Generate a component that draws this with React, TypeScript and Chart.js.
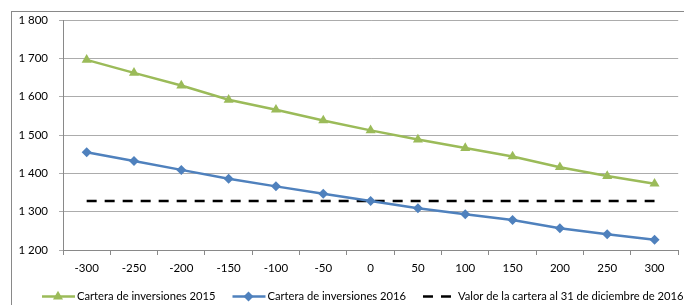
import React, { useEffect, useRef } from 'react';
import { Chart, registerables } from 'chart.js';

Chart.register(...registerables);

const categories = ['-300', '-250', '-200', '-150', '-100', '-50', '0', '50', '100', '150', '200', '250', '300'];
const cartera2015 = [1696, 1662, 1629, 1592, 1566, 1538, 1512, 1488, 1466, 1444, 1416, 1393, 1373];
const cartera2016 = [1455, 1432, 1409, 1386, 1366, 1347, 1328, 1309, 1293, 1278, 1257, 1241, 1227];
const valor2016 = [1328, 1328, 1328, 1328, 1328, 1328, 1328, 1328, 1328, 1328, 1328, 1328, 1328];
const yTicks = [1200, 1300, 1400, 1500, 1600, 1700, 1800];

const labels2015 = 'Cartera de inversiones 2015';
const labels2016 = 'Cartera de inversiones 2016';
const labelsValor = 'Valor de la cartera al 31 de diciembre de 2016';

const GREEN = '#9bbb59';
const BLUE = '#4f81bd';
const FONT = "Lato, 'Liberation Sans', sans-serif";

const fmt = (v: number) => String(v).replace(/\B(?=(\d{3})+(?!\d))/g, ' ');

function drawMarker(ctx: CanvasRenderingContext2D, style: string, x: number, y: number, r: number, color: string) {
  ctx.fillStyle = color;
  ctx.beginPath();
  if (style === 'triangle') {
    const h = r * 1.5;
    const w = r * Math.sqrt(3);
    ctx.moveTo(x, y - r);
    ctx.lineTo(x + w / 2, y - r + h);
    ctx.lineTo(x - w / 2, y - r + h);
  } else if (style === 'rectRot') {
    ctx.moveTo(x, y - r);
    ctx.lineTo(x + r, y);
    ctx.lineTo(x, y + r);
    ctx.lineTo(x - r, y);
  }
  ctx.closePath();
  ctx.fill();
}

export default function App() {
  const ref = useRef<HTMLCanvasElement>(null);
  useEffect(() => {
    const canvas = ref.current!;
    const borderPlugin = {
      id: 'outerBorder',
      beforeDraw(chart: any) {
        const ctx = chart.ctx;
        ctx.save();
        ctx.strokeStyle = '#898989';
        ctx.lineWidth = 1;
        ctx.strokeRect(11.5, 11.5, 900, 600);
        ctx.restore();
      },
    };
    const legendPlugin = {
      id: 'customLegend',
      afterDraw(chart: any) {
        const ctx: CanvasRenderingContext2D = chart.ctx;
        ctx.save();
        ctx.font = `11.2px ${FONT}`;
        ctx.textBaseline = 'middle';
        let x = 42;
        const y = 296.5;
        chart.data.datasets.forEach((ds: any) => {
          ctx.strokeStyle = ds.borderColor;
          ctx.lineWidth = 2.5;
          ctx.setLineDash(ds.borderDash || []);
          ctx.beginPath();
          ctx.moveTo(x, y);
          ctx.lineTo(x + 33, y);
          ctx.stroke();
          ctx.setLineDash([]);
          if (ds.pointStyle && ds.pointRadius > 0) {
            drawMarker(ctx, ds.pointStyle, x + 16, y, ds.pointRadius, ds.borderColor);
          }
          ctx.fillStyle = '#000';
          ctx.fillText(ds.label, x + 35, y);
          x += 35 + ctx.measureText(ds.label).width + 17;
        });
        ctx.restore();
      },
    };
    const font = { family: FONT, size: 11.5 };
    const chart = new Chart(canvas, {
      type: 'line',
      data: {
        labels: categories,
        datasets: [
          {
            label: labels2015,
            data: cartera2015,
            borderColor: GREEN,
            backgroundColor: GREEN,
            borderWidth: 2.5,
            pointStyle: 'triangle',
            pointRadius: 5.8,
            pointBorderWidth: 0,
            tension: 0,
          },
          {
            label: labels2016,
            data: cartera2016,
            borderColor: BLUE,
            backgroundColor: BLUE,
            borderWidth: 2.5,
            pointStyle: 'rectRot',
            pointRadius: 5,
            pointBorderWidth: 0,
            tension: 0,
          },
          {
            label: labelsValor,
            data: valor2016,
            borderColor: '#000',
            backgroundColor: '#000',
            borderWidth: 2.5,
            borderDash: [10, 8],
            pointRadius: 0,
            tension: 0,
          },
        ],
      },
      options: {
        responsive: false,
        animation: false,
        layout: { padding: { top: 20, left: 0, right: 0, bottom: 0 } },
        plugins: { legend: { display: false }, tooltip: { enabled: false } },
        scales: {
          x: {
            offset: true,
            grid: { offset: true, drawOnChartArea: false, drawTicks: true, tickLength: 5, color: '#898989' },
            border: { color: '#898989' },
            ticks: { font, color: '#000', padding: 6, maxRotation: 0, autoSkip: false },
            afterFit: (s: any) => {
              s.height = 55;
            },
          },
          y: {
            min: 1200,
            max: 1800,
            afterBuildTicks: (s: any) => {
              s.ticks = yTicks.map((v) => ({ value: v }));
            },
            ticks: { font, color: '#000', padding: 11, callback: (v: any) => fmt(Number(v)) },
            grid: { color: '#acacac', tickLength: 4 },
            border: { color: '#898989' },
            afterFit: (s: any) => {
              s.width = 63;
            },
          },
        },
      },
      plugins: [borderPlugin, legendPlugin],
    });
    return () => chart.destroy();
  }, []);
  return (
    <div style={{ position: 'absolute', left: 0, top: 0, width: 684, height: 305, background: '#fff' }}>
      <canvas ref={ref} width={684} height={305} style={{ display: 'block' }} />
    </div>
  );
}
